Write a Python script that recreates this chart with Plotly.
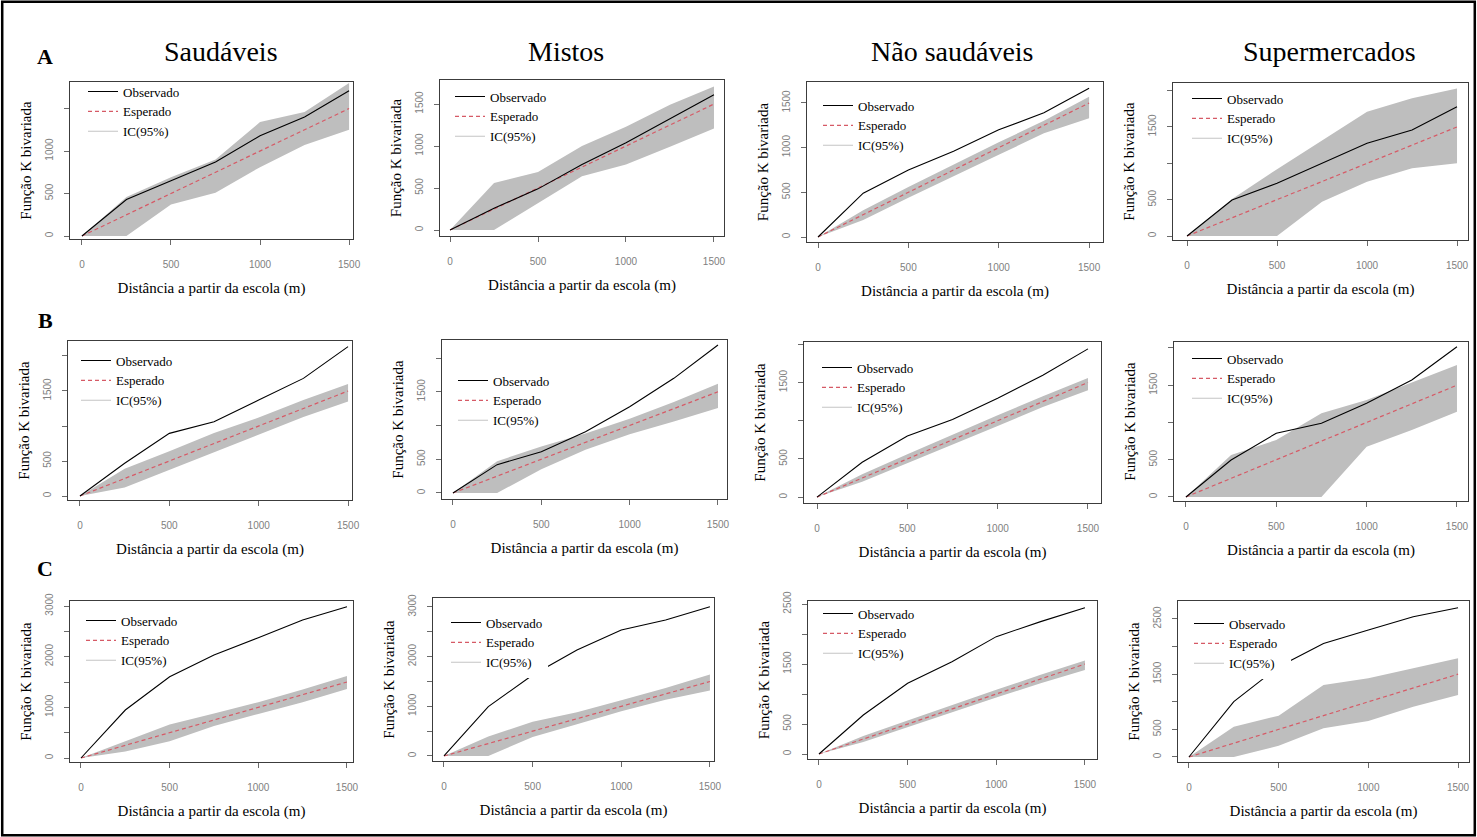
import plotly.graph_objects as go

W, H = 1477, 837

# ---------------- data ----------------
distancia = [0, 250, 500, 750, 1000, 1250, 1500]
esperado = [0, 250, 500, 750, 1000, 1250, 1500]

colunas = ["Saudáveis", "Mistos", "Não saudáveis", "Supermercados"]
linhas = ["A", "B", "C"]

# Row A
obs_A_saud = [0, 430, 650, 870, 1180, 1400, 1710]
hi_A_saud = [0, 460, 690, 900, 1340, 1460, 1800]
lo_A_saud = [0, 0, 370, 510, 810, 1070, 1250]

obs_A_mist = [0, 260, 490, 780, 1040, 1320, 1610]
hi_A_mist = [0, 560, 690, 1000, 1230, 1490, 1710]
lo_A_mist = [0, 0, 320, 640, 780, 990, 1210]

obs_A_nsaud = [0, 490, 750, 960, 1200, 1390, 1665]
hi_A_nsaud = [0, 300, 560, 810, 1060, 1300, 1570]
lo_A_nsaud = [0, 190, 440, 680, 920, 1160, 1330]

obs_A_super = [0, 495, 725, 1000, 1275, 1458, 1779]
hi_A_super = [0, 509, 920, 1310, 1710, 1894, 2031]
lo_A_super = [0, 0, 0, 472, 747, 931, 1000]

# Row B
obs_B_saud = [0, 467, 895, 1062, 1371, 1680, 2133]
hi_B_saud = [0, 390, 640, 900, 1120, 1370, 1600]
lo_B_saud = [0, 120, 380, 620, 880, 1130, 1350]

obs_B_mist = [0, 420, 612, 908, 1279, 1699, 2193]
hi_B_mist = [0, 470, 690, 880, 1100, 1350, 1620]
lo_B_mist = [0, 0, 350, 640, 870, 1060, 1260]

obs_B_nsaud = [0, 456, 800, 1015, 1295, 1596, 1940]
hi_B_nsaud = [0, 300, 560, 820, 1070, 1320, 1560]
lo_B_nsaud = [0, 200, 440, 690, 930, 1180, 1400]

obs_B_super = [0, 497, 855, 989, 1258, 1570, 2017]
hi_B_super = [0, 564, 765, 1123, 1302, 1540, 1772]
lo_B_super = [0, 0, 0, 0, 675, 899, 1145]

# Row C
obs_C_saud = [0, 947, 1605, 2033, 2375, 2723, 2987]
hi_C_saud = [0, 330, 660, 880, 1100, 1350, 1620]
lo_C_saud = [0, 130, 330, 630, 870, 1100, 1360]

obs_C_mist = [0, 993, 1631, 2134, 2537, 2738, 3006]
hi_C_mist = [0, 390, 690, 880, 1120, 1370, 1640]
lo_C_mist = [0, 0, 380, 640, 900, 1130, 1320]

obs_C_nsaud = [0, 650, 1178, 1539, 1956, 2206, 2439]
hi_C_nsaud = [0, 300, 560, 820, 1070, 1320, 1560]
lo_C_nsaud = [0, 200, 440, 690, 940, 1180, 1400]

obs_C_super = [0, 1002, 1635, 2058, 2300, 2541, 2705]
hi_C_super = [0, 549, 748, 1304, 1425, 1606, 1787]
lo_C_super = [0, 0, 204, 519, 652, 911, 1123]

x_ticks = [0, 500, 1000, 1500]
x_ticklabels = ["0", "500", "1000", "1500"]
yt_1500 = [0, 500, 1000, 1500]
yl_1500a = ["0", "500", "1000", ""]
yl_1500b = ["0", "500", "1000", "1500"]
yt_2000 = [0, 500, 1000, 1500, 2000]
yl_2000 = ["0", "500", "", "1500", ""]
yt_3000 = [0, 500, 1000, 1500, 2000, 2500, 3000]
yl_3000 = ["0", "", "1000", "", "2000", "", "3000"]
yt_2500 = [0, 500, 1000, 1500, 2000, 2500]
yl_2500 = ["0", "500", "", "1500", "", "2500"]

series = [
    (obs_A_saud, hi_A_saud, lo_A_saud, yt_1500, yl_1500a),
    (obs_A_mist, hi_A_mist, lo_A_mist, yt_1500, yl_1500b),
    (obs_A_nsaud, hi_A_nsaud, lo_A_nsaud, yt_1500, yl_1500b),
    (obs_A_super, hi_A_super, lo_A_super, yt_2000, yl_2000),
    (obs_B_saud, hi_B_saud, lo_B_saud, yt_2000, yl_2000),
    (obs_B_mist, hi_B_mist, lo_B_mist, yt_2000, yl_2000),
    (obs_B_nsaud, hi_B_nsaud, lo_B_nsaud, yt_2000, yl_2000),
    (obs_B_super, hi_B_super, lo_B_super, yt_2000, yl_2000),
    (obs_C_saud, hi_C_saud, lo_C_saud, yt_3000, yl_3000),
    (obs_C_mist, hi_C_mist, lo_C_mist, yt_3000, yl_3000),
    (obs_C_nsaud, hi_C_nsaud, lo_C_nsaud, yt_2500, yl_2500),
    (obs_C_super, hi_C_super, lo_C_super, yt_2500, yl_2500),
]

# ---------------- geometry (pixels) ----------------
geom = [
    ((70, 353, 82, 239), (-67, 1522), (-35, 1812), (93, 95), False),
    ((440, 724, 80, 236), (-57, 1557), (-71, 1786), (460, 100), False),
    ((807, 1103, 82, 242), (-61, 1577), (-56, 1735), (828, 109), False),
    ((1173, 1468, 83, 240), (-78, 1561), (-55, 2105), (1197, 102), False),
    ((68, 352, 341, 500), (-67, 1522), (-57, 2214), (86, 364), False),
    ((442, 727, 340, 499), (-62, 1551), (-89, 2267), (463, 384), False),
    ((804, 1101, 342, 503), (-72, 1572), (-77, 2030), (827, 371), False),
    ((1174, 1468, 342, 501), (-66, 1561), (-54, 2080), (1197, 362), False),
    ((70, 353, 601, 762), (-62, 1534), (-79, 3099), (91, 624), False),
    ((433, 714, 598, 761), (-62, 1523), (-101, 3181), (456, 626), True),
    ((808, 1097, 601, 759), (-62, 1568), (-83, 2550), (828, 617), False),
    ((1178, 1469, 601, 762), (-61, 1561), (-91, 2826), (1199, 627), True),
]

SERIF = "Liberation Serif, Times New Roman, serif"
SANS = "Liberation Sans, Arial, sans-serif"
RED = "#d65a66"
GREY_FILL = "#bebebe"

fig = go.Figure()
layout = {}

for k, ((obs, hi, lo, yt, yl), (box, xr, yr, leg, legbg)) in enumerate(zip(series, geom), start=1):
    xa = "x" if k == 1 else f"x{k}"
    ya = "y" if k == 1 else f"y{k}"
    lg = "legend" if k == 1 else f"legend{k}"

    fig.add_trace(go.Scatter(
        x=distancia + distancia[::-1], y=hi + lo[::-1],
        fill="toself", fillcolor=GREY_FILL, line=dict(width=0),
        mode="lines", showlegend=False, hoverinfo="skip",
        xaxis=xa, yaxis=ya))
    fig.add_trace(go.Scatter(
        x=distancia, y=esperado, mode="lines", name="Esperado",
        line=dict(color=RED, width=1.2, dash="4px,3px"),
        legend=lg, legendrank=2, xaxis=xa, yaxis=ya))
    fig.add_trace(go.Scatter(
        x=distancia, y=obs, mode="lines", name="Observado",
        line=dict(color="black", width=1.1),
        legend=lg, legendrank=1, xaxis=xa, yaxis=ya))
    fig.add_trace(go.Scatter(
        x=[None], y=[None], mode="lines", name="IC(95%)",
        line=dict(color="#c4c4c4", width=1.2),
        legend=lg, legendrank=3, xaxis=xa, yaxis=ya))

    L, R, T, B = box
    xkey = "xaxis" if k == 1 else f"xaxis{k}"
    ykey = "yaxis" if k == 1 else f"yaxis{k}"
    layout[xkey] = dict(
        domain=[L / W, R / W], range=list(xr), anchor=ya, automargin=False,
        showline=True, mirror=True, linecolor="#3c3c3c", linewidth=1,
        ticks="outside", ticklen=5, tickcolor="#6a6a6a", tickwidth=1,
        tickvals=x_ticks, ticktext=x_ticklabels,
        tickfont=dict(family=SANS, size=10, color="#808080"),
        ticklabelstandoff=11,
        showgrid=False, zeroline=False, fixedrange=True,
        title=dict(text="Distância a partir da escola (m)",
                   font=dict(family=SERIF, size=15, color="black"), standoff=13),
    )
    layout[ykey] = dict(
        domain=[1 - B / H, 1 - T / H], range=list(yr), anchor=xa, automargin=False,
        showline=True, mirror=True, linecolor="#3c3c3c", linewidth=1,
        ticks="outside", ticklen=5, tickcolor="#6a6a6a", tickwidth=1,
        tickvals=yt, ticktext=yl, tickangle=-90,
        tickfont=dict(family=SANS, size=10, color="#808080"),
        ticklabelstandoff=7,
        showgrid=False, zeroline=False, fixedrange=True,
        title=dict(text="Função K bivariada",
                   font=dict(family=SERIF, size=15, color="black"), standoff=8),
    )
    sx, sy = leg
    layout[lg] = dict(
        x=(sx - 10) / W, y=1 - (sy - 6.5 - 12) / H, xanchor="left", yanchor="top",
        bgcolor="white" if legbg else "rgba(255,255,255,0)",
        borderwidth=0, font=dict(family=SERIF, size=13, color="black"),
        tracegroupgap=0, itemclick=False, itemdoubleclick=False,
    )

annotations = []
col_x = [221, 566, 952, 1329]
for name, cx in zip(colunas, col_x):
    annotations.append(dict(text=name, x=cx / W, y=1 - 52 / H, xref="paper", yref="paper",
                            showarrow=False, xanchor="center", yanchor="middle",
                            font=dict(family=SERIF, size=28, color="black")))
row_y = [57, 320, 568]
for name, ry in zip(linhas, row_y):
    annotations.append(dict(text=f"<b>{name}</b>", x=45 / W, y=1 - ry / H, xref="paper", yref="paper",
                            showarrow=False, xanchor="center", yanchor="middle",
                            font=dict(family=SERIF, size=22, color="black")))

fig.update_layout(
    width=W, height=H, margin=dict(l=0, r=0, t=0, b=0, pad=0, autoexpand=False),
    paper_bgcolor="white", plot_bgcolor="white",
    annotations=annotations,
    shapes=[dict(type="rect", xref="paper", yref="paper", x0=0.0015, y0=0.002, x1=0.9985, y1=0.998,
                 line=dict(color="black", width=2.5))],
    **layout,
)

fig.write_html("out.html")
